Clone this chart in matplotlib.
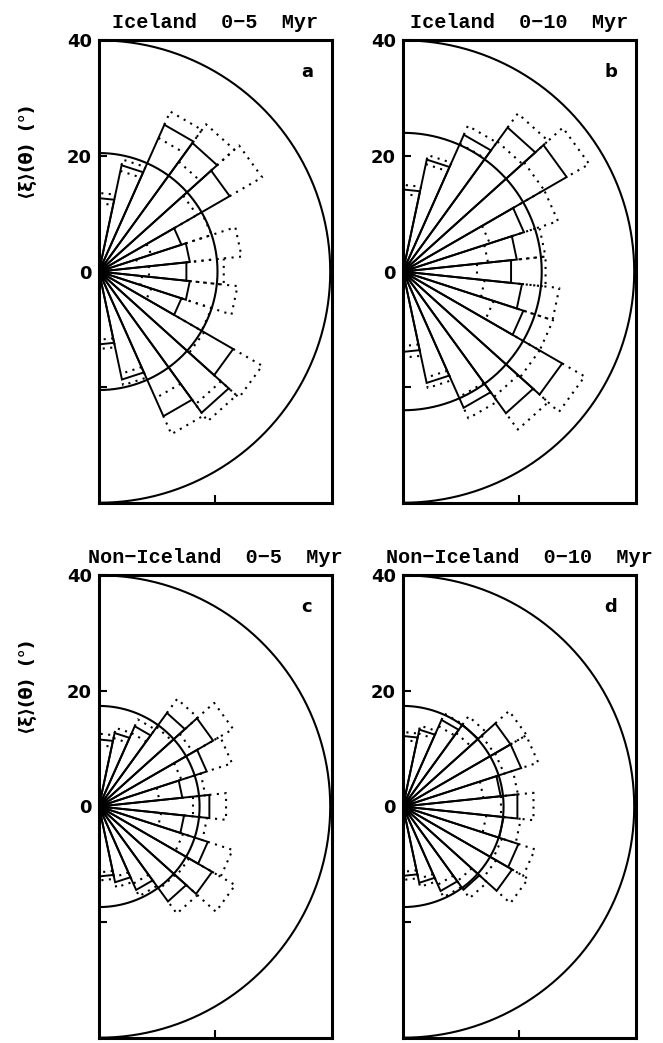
import numpy as np
import matplotlib
matplotlib.use("Agg")
import matplotlib.pyplot as plt

# latitude bins (12 deg wide), centre angle of each sector
BIN_CENTERS = [84, 72, 60, 48, 36, 24, 12, 0, -12, -24, -36, -48, -60, -72, -84]

# sector mean <xi>(theta) and its uncertainty, degrees
mean_a = [12.7, 18.8, 27.8, 27.5, 26.1, 15.0, 15.8, 15.2, 15.8, 15.0, 26.8, 30.2, 27.4, 19.1, 12.6]
err_a = [0.9, 1.0, 2.5, 4.0, 6.5, 5.5, 9.0, 6.5, 8.3, 5.5, 5.8, 1.8, 3.4, 1.0, 0.8]

mean_b = [14.2, 19.8, 25.9, 30.8, 32.7, 22.0, 19.8, 18.8, 20.7, 21.9, 31.8, 30.3, 25.8, 19.7, 13.9]
err_b = [0.8, 0.8, 1.7, 3.0, 4.5, 6.2, 5.0, 6.0, 6.5, 5.4, 4.5, 3.5, 2.0, 0.9, 1.0]

mean_c = [11.6, 13.0, 15.2, 20.0, 22.8, 19.6, 14.5, 19.2, 14.8, 19.8, 22.6, 20.3, 15.8, 13.4, 12.1]
err_c = [1.0, 0.9, 1.3, 3.0, 4.0, 4.6, 4.0, 2.9, 4.0, 4.5, 4.6, 2.6, 1.2, 0.9, 0.7]

mean_d = [12.2, 13.6, 16.4, 17.5, 21.5, 21.5, 17.0, 19.9, 17.5, 21.0, 21.8, 17.8, 16.0, 13.5, 12.0]
err_d = [0.7, 0.7, 1.2, 1.8, 3.2, 3.1, 3.0, 2.8, 3.0, 3.0, 3.2, 1.8, 1.2, 0.7, 0.7]

# overall average and reference circle radius for each data set
overall = [20.5, 24.0, 17.4, 17.4]
REF_RADIUS = 40

titles = ["Iceland  0\u22125  Myr", "Iceland  0\u221210  Myr",
          "Non\u2212Iceland  0\u22125  Myr", "Non\u2212Iceland  0\u221210  Myr"]
letters = ["a", "b", "c", "d"]

HALF = 6.0  # half width of a sector, deg
DOT = (0, (1.0, 2.6))


def xy(r, deg):
    a = np.radians(deg)
    return r * np.cos(a), r * np.sin(a)


def semicircle(ax, r, lw):
    t = np.linspace(-90, 90, 361)
    x, y = xy(r, t)
    ax.plot(x, y, color="k", lw=lw, solid_capstyle="butt")


def draw_panel(ax, means, errs, avg, title, letter):
    for c, m, e in zip(BIN_CENTERS, means, errs):
        a1, a2 = c + HALF, c - HALF
        x1, y1 = xy(m, a1)
        x2, y2 = xy(m, a2)
        ax.plot([0, x1, x2, 0], [0, y1, y2, 0], color="k", lw=1.4,
                solid_joinstyle="miter")
        # upper bound: dotted extension of the sector
        hx1, hy1 = xy(m + e, a1)
        hx2, hy2 = xy(m + e, a2)
        ax.plot([x1, hx1, hx2, x2], [y1, hy1, hy2, y2], color="k", lw=1.5,
                linestyle=DOT)
        # lower bound: dotted chord inside the sector
        lx1, ly1 = xy(m - e, a1)
        lx2, ly2 = xy(m - e, a2)
        ax.plot([lx1, lx2], [ly1, ly2], color="k", lw=1.5, linestyle=DOT)

    semicircle(ax, avg, 1.5)
    semicircle(ax, REF_RADIUS, 1.5)

    ax.set_xlim(0, 40.3)
    ax.set_ylim(-40.05, 40.05)
    ax.set_xticks([20])
    ax.set_xticklabels([])
    ax.set_yticks([-40, -20, 0, 20, 40])
    ax.set_yticklabels(["", "", "0", "20", "40"])
    ax.tick_params(direction="in", length=6, width=1.5, pad=5,
                   labelsize=13)
    for lab in ax.get_yticklabels():
        lab.set_fontweight("bold")
    for sp in ax.spines.values():
        sp.set_linewidth(2.2)
    ax.set_title(title, family=["Liberation Mono", "DejaVu Sans Mono"],
                 fontweight="bold", fontsize=14.5, pad=9)
    ax.text(0.893, 0.931, letter, transform=ax.transAxes, ha="center",
            va="center", fontsize=13, fontweight="bold")


fig = plt.figure(figsize=(6.63, 10.43), dpi=100)

W, H = 0.3514, 0.4439
positions = [
    [0.1493, 0.5177, W, H],
    [0.6078, 0.5177, W, H],
    [0.1493, 0.0048, W, H],
    [0.6078, 0.0048, W, H],
]
data = [(mean_a, err_a), (mean_b, err_b), (mean_c, err_c), (mean_d, err_d)]

for pos, (m, e), avg, title, letter in zip(positions, data, overall, titles, letters):
    ax = fig.add_axes(pos)
    draw_panel(ax, m, e, avg, title, letter)

ylab = "\u27e8\u03be\u27e9(\u03b8)  (\u00b0)"
for yc in (1 - 152 / 1043, 1 - 687 / 1043):
    fig.text(28 / 663, yc, ylab, rotation=90, ha="center", va="center",
             fontsize=13, fontweight="bold")

fig.savefig("out.png", dpi=100)
